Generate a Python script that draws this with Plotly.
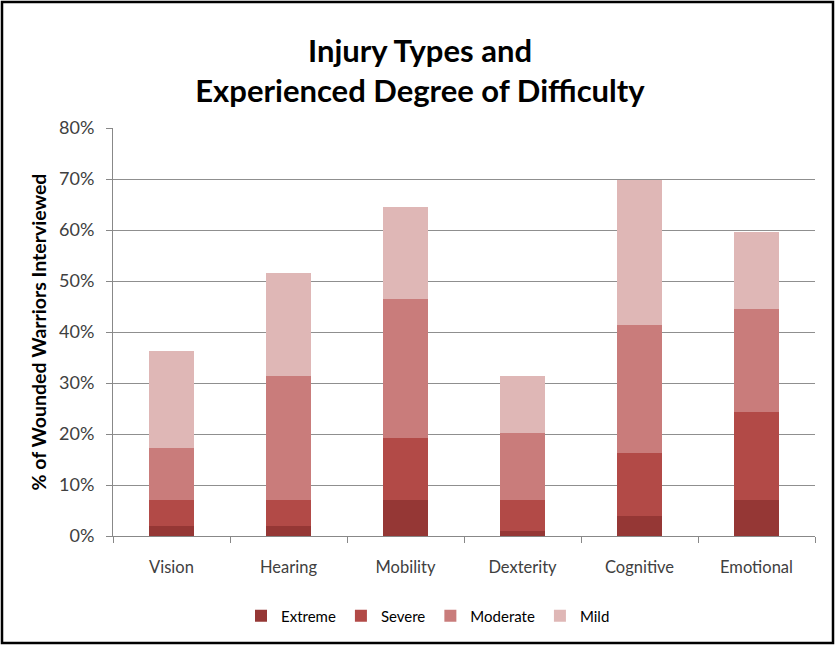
import plotly.graph_objects as go

categories = ["Vision", "Hearing", "Mobility", "Dexterity", "Cognitive", "Emotional"]
extreme = [2.0, 2.0, 7.0, 1.0, 4.0, 7.0]
severe = [5.0, 5.0, 12.2, 6.0, 12.3, 17.3]
moderate = [10.2, 24.4, 27.3, 13.2, 25.1, 20.2]
mild = [19.1, 20.2, 18.0, 11.2, 28.4, 15.1]
series_names = ["Extreme", "Severe", "Moderate", "Mild"]
colors = ["#953735", "#B24A47", "#C97C7B", "#DFB7B6"]
tick_vals = [0, 10, 20, 30, 40, 50, 60, 70, 80]
tick_text = ["0%", "10%", "20%", "30%", "40%", "50%", "60%", "70%", "80%"]

fig = go.Figure()
for name, vals, col in zip(series_names, [extreme, severe, moderate, mild], colors):
    fig.add_trace(go.Bar(x=categories, y=vals, name=name,
                         marker=dict(color=col, line=dict(width=0))))

W, H = 835, 645
L, R, T, B = 113, 20, 128, 109
pw, ph = W - L - R, H - T - B

def px(p):
    return (p - L) / pw

def py(q):
    return (H - B - q) / ph

fig.update_layout(
    width=W, height=H, barmode="stack", bargap=0.61,
    margin=dict(l=L, r=R, t=T, b=B),
    paper_bgcolor="white", plot_bgcolor="white",
    font=dict(family="Lato, Open Sans, sans-serif", color="#404040", size=15),
    title=dict(text="Injury Types and<br>Experienced Degree of Difficulty",
               x=0.503, xanchor="center", y=1 - 62 / H, yanchor="middle",
               font=dict(size=31, color="black", family="Lato, sans-serif", weight="bold")),
    legend=dict(orientation="h", x=px(428), xanchor="center", y=py(616), yanchor="middle",
                font=dict(size=15, color="black"), itemwidth=30, traceorder="normal"),
    xaxis=dict(showgrid=False, showline=True, linecolor="#888888", linewidth=1,
               ticks="outside", ticklen=6, tickcolor="#888888", tickson="boundaries",
               ticklabelstandoff=16,
               tickfont=dict(size=16.5, color="#404040")),
    yaxis=dict(range=[0, 80], tickvals=tick_vals, ticktext=tick_text,
               showgrid=True, gridcolor="#8F8F8F", gridwidth=1,
               showline=True, linecolor="#888888", linewidth=1,
               ticks="outside", ticklen=6, tickcolor="#888888",
               ticklabelstandoff=8,
               tickfont=dict(size=18, color="#404040"), zeroline=False,
               title=dict(text="% of Wounded Warriors Interviewed", standoff=7,
                          font=dict(size=19.5, color="black", weight="bold"))),
)

fig.add_shape(type="rect", xref="paper", yref="paper",
              x0=px(2), x1=px(833), y0=py(643), y1=py(2),
              line=dict(color="black", width=2.5), fillcolor="rgba(0,0,0,0)", layer="above")

fig.write_html("out.html", config={"displayModeBar": False},
               post_script="document.body.style.margin='0';")
